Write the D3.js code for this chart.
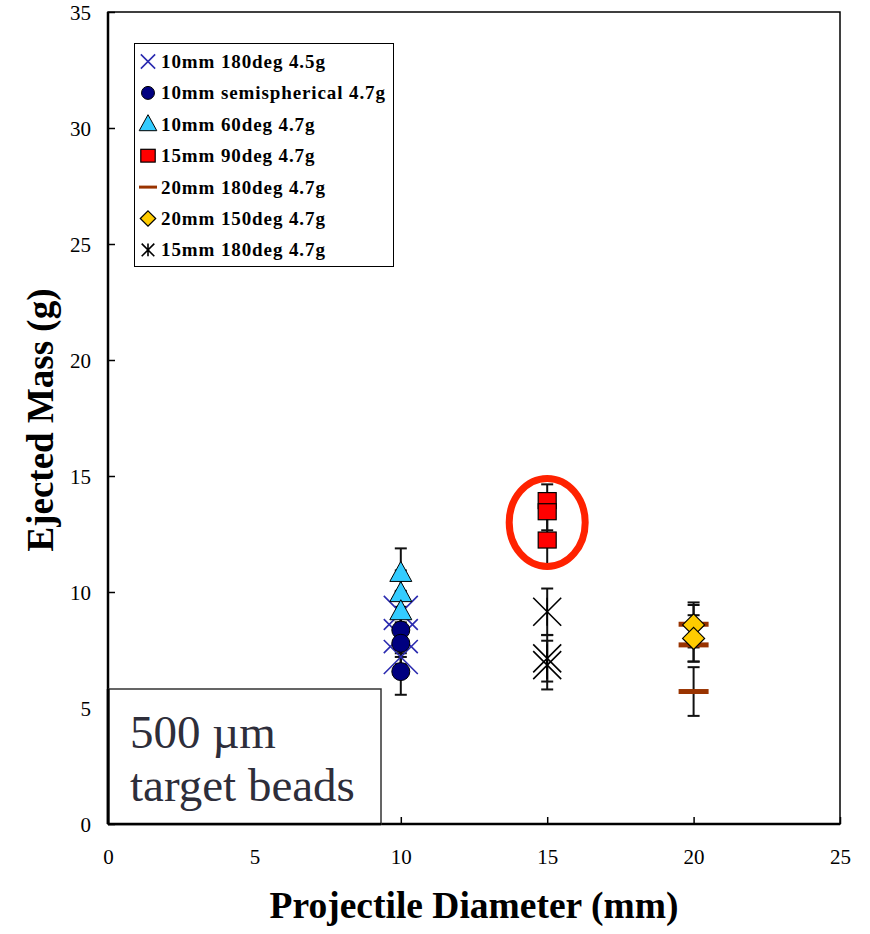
<!DOCTYPE html>
<html><head><meta charset="utf-8">
<script src="https://cdn.jsdelivr.net/npm/d3@7"></script>
<style>body{margin:0;background:#fff}svg{display:block}</style>
</head><body>
<script>
// ---- data ----
const xTicks = [0, 5, 10, 15, 20, 25];
const yTicks = [0, 5, 10, 15, 20, 25, 30, 35];
const seriesNames = ["10mm 180deg 4.5g","10mm semispherical 4.7g","10mm 60deg 4.7g","15mm 90deg 4.7g","20mm 180deg 4.7g","20mm 150deg 4.7g","15mm 180deg 4.7g"];
const seriesKinds = ["x","circle","triangle","square","dash","diamond","star"];
const seriesX = [10, 10, 10, 15, 20, 20, 15];
const blueX = [9.1, 8.1, 7.2];        const blueXErr = [0.9, 0.9, 0.9];
const navyCircle = [8.36, 7.79, 6.57]; const navyCircleErr = [1.0, 0.9, 1.0];
const cyanTri = [10.8, 9.93, 9.15];    const cyanTriErr = [1.08, 1.0, 0.9];
const redSq = [13.94, 13.46, 12.24];   const redSqErr = [0.7, 0.8, 1.05];
const brownDash = [8.61, 7.72, 5.71];  const brownDashErr = [0.83, 0.72, 1.05];
const goldDia = [8.58, 8.0];           const goldDiaErr = [0.97, 1.0];
const blackStar = [9.15, 7.14, 6.85];  const blackStarErr = [1.0, 1.0, 1.05];
const seriesY = [blueX, navyCircle, cyanTri, redSq, brownDash, goldDia, blackStar];
const seriesErr = [blueXErr, navyCircleErr, cyanTriErr, redSqErr, brownDashErr, goldDiaErr, blackStarErr];
const highlight = {x: 15, y: 13.0};

const W = 870, H = 934;
const L = 108, R = 840, T = 12, B = 824;
const serif = "Liberation Serif, Times New Roman, serif";
const svg = d3.select("body").append("svg").attr("width", W).attr("height", H);
const x = d3.scaleLinear().domain([0, 25]).range([L, R]);
const y = d3.scaleLinear().domain([0, 35]).range([B, T]);

// frame
svg.append("rect").attr("x", L).attr("y", T).attr("width", R - L).attr("height", B - T)
  .attr("fill", "none").attr("stroke", "#000").attr("stroke-width", 1.5);
svg.append("line").attr("x1", L).attr("x2", R).attr("y1", B).attr("y2", B).attr("stroke", "#000").attr("stroke-width", 2.5);
svg.append("line").attr("x1", L).attr("x2", L).attr("y1", T).attr("y2", B).attr("stroke", "#000").attr("stroke-width", 2.5);

// axes
const yAx = svg.append("g").attr("transform", `translate(${L},0)`)
  .call(d3.axisLeft(y).tickValues(yTicks).tickSizeInner(-7).tickSizeOuter(0).tickPadding(17));
const xAx = svg.append("g").attr("transform", `translate(0,${B})`)
  .call(d3.axisBottom(x).tickValues(xTicks).tickSizeInner(-7).tickSizeOuter(0).tickPadding(25));
[yAx, xAx].forEach(g => {
  g.attr("font-family", serif).attr("font-size", 21);
  g.select(".domain").remove();
  g.selectAll("line").attr("stroke", "#000").attr("stroke-width", 1.5);
  g.selectAll("text").style("font-family", serif).attr("font-size", 21).attr("fill", "#000");
});
yAx.selectAll("text").attr("dy", "0.34em");

// titles
svg.append("text").attr("x", (L + R) / 2).attr("y", 918).attr("text-anchor", "middle")
  .style("font-family", serif).attr("font-weight", "bold").attr("font-size", 37.5).text("Projectile Diameter (mm)");
svg.append("text").attr("transform", `translate(53,${(T + B) / 2 + 2}) rotate(-90)`).attr("text-anchor", "middle")
  .style("font-family", serif).attr("font-weight", "bold").attr("font-size", 37).text("Ejected Mass (g)");

// error bars
const eb = svg.append("g");
seriesY.forEach((arr, si) => {
  arr.forEach((v, i) => {
    const cx = x(seriesX[si]), e = seriesErr[si][i];
    eb.append("line").attr("x1", cx).attr("x2", cx).attr("y1", y(v + e)).attr("y2", y(v - e))
      .attr("stroke", "#111").attr("stroke-width", 2);
    [v + e, v - e].forEach(c => eb.append("line").attr("x1", cx - 6).attr("x2", cx + 6)
      .attr("y1", y(c)).attr("y2", y(c)).attr("stroke", "#111").attr("stroke-width", 2));
  });
});

// symbol drawing
function drawSym(g, kind, cx, cy, s) {
  if (kind === "x") {
    const h = 17 * s;
    g.append("path").attr("d", `M${cx - h},${cy - h}L${cx + h},${cy + h}M${cx - h},${cy + h}L${cx + h},${cy - h}`)
      .attr("stroke", "#2b2bb0").attr("stroke-width", 1.6).attr("fill", "none");
  } else if (kind === "star") {
    const h = 14 * s;
    g.append("path").attr("d", `M${cx - h},${cy - h}L${cx + h},${cy + h}M${cx - h},${cy + h}L${cx + h},${cy - h}M${cx},${cy - h}L${cx},${cy + h}`)
      .attr("stroke", "#000").attr("stroke-width", 1.6).attr("fill", "none");
  } else if (kind === "circle") {
    g.append("circle").attr("cx", cx).attr("cy", cy).attr("r", 9 * s)
      .attr("fill", "#000080").attr("stroke", "#000").attr("stroke-width", 1);
  } else if (kind === "triangle") {
    const w = 11 * s, h = 20 * s;
    g.append("path").attr("d", `M${cx},${cy - h * 0.6}L${cx + w},${cy + h * 0.4}L${cx - w},${cy + h * 0.4}Z`)
      .attr("fill", "#33ccff").attr("stroke", "#000").attr("stroke-width", 1);
  } else if (kind === "square") {
    const w = 9 * s, h = 8 * s;
    g.append("rect").attr("x", cx - w).attr("y", cy - h).attr("width", 2 * w).attr("height", 2 * h)
      .attr("fill", "#ff0000").attr("stroke", "#000").attr("stroke-width", 1.2);
  } else if (kind === "diamond") {
    const h = 11 * s;
    g.append("path").attr("d", `M${cx},${cy - h}L${cx + h},${cy}L${cx},${cy + h}L${cx - h},${cy}Z`)
      .attr("fill", "#ffcc00").attr("stroke", "#000").attr("stroke-width", 1.2);
  } else if (kind === "dash") {
    const w = 15 * s;
    g.append("line").attr("x1", cx - w).attr("x2", cx + w).attr("y1", cy).attr("y2", cy)
      .attr("stroke", "#993300").attr("stroke-width", 5 * s);
  }
}
const marks = svg.append("g");
[0, 1, 2, 3, 4, 5, 6].forEach(si => {
  seriesY[si].forEach(v => drawSym(marks, seriesKinds[si], x(seriesX[si]), y(v), 1));
});

// highlight ellipse
svg.append("ellipse").attr("cx", x(highlight.x)).attr("cy", y(highlight.y)).attr("rx", 38).attr("ry", 44)
  .attr("fill", "none").attr("stroke", "#ff2200").attr("stroke-width", 7);

// legend
const lg = svg.append("g");
lg.append("rect").attr("x", 134.5).attr("y", 43.5).attr("width", 259).attr("height", 223)
  .attr("fill", "#fff").attr("stroke", "#000").attr("stroke-width", 1);
seriesNames.forEach((n, i) => {
  const cy = 61.5 + i * 31.4;
  const sc = {x: 0.42, star: 0.45, circle: 0.72, triangle: 0.8, square: 0.8, diamond: 0.7, dash: 0.6}[seriesKinds[i]];
  drawSym(lg, seriesKinds[i], 148, cy, sc);
  lg.append("text").attr("x", 161).attr("y", cy + 6.5).style("font-family", serif).attr("font-weight", "bold")
    .attr("font-size", 19).attr("letter-spacing", 0.9).text(n);
});

// annotation box
svg.append("rect").attr("x", 109).attr("y", 689).attr("width", 272).attr("height", 135)
  .attr("fill", "#fff").attr("stroke", "#333").attr("stroke-width", 1.5);
svg.append("line").attr("x1", L).attr("x2", 381).attr("y1", B).attr("y2", B).attr("stroke", "#000").attr("stroke-width", 2.5);
svg.append("line").attr("x1", L).attr("x2", L).attr("y1", 689).attr("y2", B).attr("stroke", "#000").attr("stroke-width", 2.5);
svg.append("text").attr("x", 130).attr("y", 748).style("font-family", serif).attr("font-size", 47).attr("fill", "#2e2e3a").text("500 µm");
svg.append("text").attr("x", 130).attr("y", 801).style("font-family", serif).attr("font-size", 47).attr("fill", "#2e2e3a").text("target beads");
</script>
</body></html>
